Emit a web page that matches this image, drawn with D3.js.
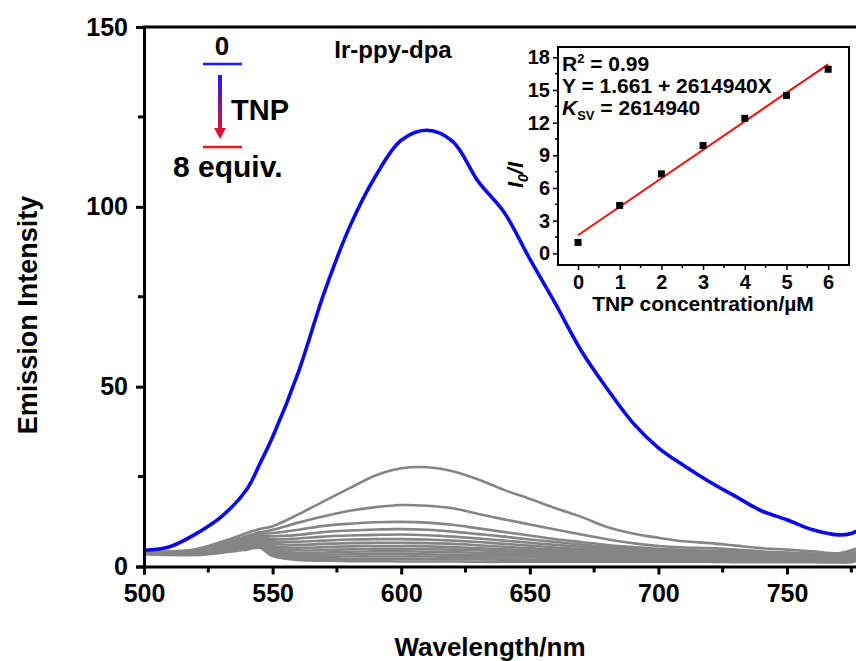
<!DOCTYPE html>
<html lang="en">
<head>
    <meta charset="UTF-8">
    <title>Ir-ppy-dpa emission quenching by TNP</title>
    <style>
        body { margin: 0; background: #fff; }
        svg { display: block; }
        text {
            font-family: "Liberation Sans", Arial, Helvetica, sans-serif;
            font-weight: bold;
            fill: #000;
        }
        .domain, .tick line { stroke: #000; }
    </style>
</head>
<body>

    <svg width="856" height="661"></svg>

    <script src="https://d3js.org/d3.v7.min.js"></script>

    <script>

        // Wavelength grid (nm) shared by all spectra
        const wavelengths = [500, 510, 520, 530, 540, 545, 550, 560, 570, 580, 590, 600, 610, 620, 630,
                             640, 650, 660, 670, 680, 690, 700, 710, 720, 730, 740, 750, 760, 770, 775, 780];

        // Spectrum without TNP (0 equiv.)
        const blueSpectrum = [4.5, 5.5, 9.0, 13.8, 21.5, 28.5, 36.0, 54.0, 76.0, 94.5, 108.5, 118.5, 121.3, 118.2, 107.0,
                              98.5, 85.5, 73.0, 60.0, 49.5, 40.0, 33.0, 28.0, 23.5, 19.5, 15.5, 13.0, 10.2, 8.8, 9.2, 11.0];

        // Spectra after successive TNP additions
        const greySpectra = [
            [4.2, 4.2, 4.8, 6.8, 9.3, 10.4, 11.2, 14.5, 18.2, 21.8, 25.3, 27.3, 27.6, 26.5, 24.2, 21.3, 18.8, 16.2, 13.8, 11.0, 9.2, 8.0, 7.0, 6.5, 5.8, 5.1, 4.7, 4.2, 3.7, 4.5, 6.0],
            [4.2, 4.0, 4.5, 6.3, 8.5, 9.5, 10.2, 12.2, 14.0, 15.5, 16.5, 17.1, 16.9, 16.2, 14.6, 13.1, 11.7, 10.3, 8.9, 7.6, 6.5, 5.7, 5.3, 5.1, 4.7, 4.2, 3.9, 3.6, 3.2, 3.8, 5.0],
            [4.0, 3.8, 4.3, 6.0, 8.0, 9.0, 9.3, 10.2, 11.3, 11.9, 12.3, 12.4, 12.2, 11.6, 10.6, 9.6, 8.6, 7.6, 6.8, 6.0, 5.4, 4.9, 4.6, 4.4, 4.2, 3.8, 3.5, 3.2, 2.8, 3.3, 4.5],
            [4.0, 3.8, 4.2, 5.8, 7.7, 8.6, 8.4, 8.8, 9.6, 10.0, 10.3, 10.4, 10.2, 9.7, 9.0, 8.3, 7.5, 6.8, 6.1, 5.5, 5.0, 4.6, 4.3, 4.1, 3.9, 3.6, 3.3, 3.0, 2.7, 3.1, 4.2],
            [3.9, 3.7, 4.1, 5.6, 7.4, 8.3, 7.6, 7.8, 8.3, 8.6, 8.8, 8.9, 8.7, 8.3, 7.8, 7.2, 6.6, 6.0, 5.5, 5.0, 4.6, 4.3, 4.0, 3.8, 3.6, 3.4, 3.1, 2.9, 2.6, 2.9, 4.0],
            [3.9, 3.6, 4.0, 5.4, 7.1, 8.0, 7.0, 6.9, 7.2, 7.5, 7.6, 7.6, 7.5, 7.2, 6.8, 6.3, 5.8, 5.3, 4.9, 4.5, 4.2, 3.9, 3.7, 3.5, 3.3, 3.1, 2.9, 2.7, 2.4, 2.7, 3.8],
            [3.8, 3.6, 3.9, 5.2, 6.8, 7.7, 6.4, 6.0, 6.3, 6.5, 6.6, 6.6, 6.5, 6.3, 5.9, 5.5, 5.1, 4.7, 4.4, 4.1, 3.8, 3.6, 3.4, 3.2, 3.0, 2.9, 2.7, 2.5, 2.3, 2.5, 3.6],
            [3.8, 3.5, 3.8, 5.0, 6.5, 7.4, 5.8, 5.2, 5.4, 5.6, 5.7, 5.7, 5.6, 5.4, 5.1, 4.8, 4.5, 4.2, 3.9, 3.7, 3.5, 3.3, 3.1, 3.0, 2.8, 2.7, 2.5, 2.3, 2.1, 2.3, 3.4],
            [3.7, 3.5, 3.7, 4.8, 6.2, 7.1, 5.3, 4.5, 4.6, 4.8, 4.9, 4.9, 4.8, 4.7, 4.5, 4.2, 4.0, 3.7, 3.5, 3.3, 3.1, 3.0, 2.8, 2.7, 2.6, 2.5, 2.3, 2.2, 2.0, 2.1, 3.2],
            [3.7, 3.4, 3.6, 4.6, 5.9, 6.8, 4.8, 3.8, 3.9, 4.1, 4.2, 4.2, 4.1, 4.0, 3.8, 3.6, 3.5, 3.3, 3.1, 2.9, 2.8, 2.7, 2.6, 2.5, 2.4, 2.3, 2.2, 2.0, 1.9, 2.0, 3.0],
            [3.6, 3.4, 3.5, 4.4, 5.6, 6.4, 4.3, 3.2, 3.3, 3.4, 3.5, 3.5, 3.4, 3.3, 3.2, 3.1, 3.0, 2.8, 2.7, 2.6, 2.5, 2.4, 2.3, 2.2, 2.2, 2.1, 2.0, 1.9, 1.8, 1.9, 2.8],
            [3.6, 3.3, 3.4, 4.2, 5.3, 6.0, 3.8, 2.7, 2.7, 2.8, 2.8, 2.8, 2.8, 2.7, 2.6, 2.5, 2.5, 2.4, 2.3, 2.2, 2.2, 2.1, 2.0, 2.0, 1.9, 1.9, 1.8, 1.7, 1.6, 1.7, 2.6],
            [3.5, 3.3, 3.3, 4.0, 5.0, 5.6, 3.3, 2.2, 2.1, 2.1, 2.1, 2.1, 2.1, 2.0, 2.0, 1.9, 1.9, 1.8, 1.8, 1.8, 1.7, 1.7, 1.7, 1.6, 1.6, 1.6, 1.5, 1.5, 1.4, 1.5, 2.4],
            [3.5, 3.2, 3.2, 3.8, 4.7, 5.2, 2.9, 1.8, 1.6, 1.5, 1.5, 1.4, 1.4, 1.4, 1.3, 1.3, 1.3, 1.3, 1.3, 1.3, 1.3, 1.3, 1.3, 1.3, 1.2, 1.2, 1.2, 1.2, 1.1, 1.2, 2.2]
        ];

        const xTicks = [500, 550, 600, 650, 700, 750];
        const xMinor = [525, 575, 625, 675, 725, 775];
        const yTicks = [0, 50, 100, 150];
        const yMinor = [25, 75, 125];

        // Inset: Stern-Volmer plot
        const tnpConc = [0, 1, 2, 3, 4, 5, 6];
        const ratioI0I = [1.0, 4.4, 7.3, 9.9, 12.4, 14.5, 16.9];
        const fitX = [0, 6];
        const fitY = [1.661, 17.35];
        const insetXTicks = [0, 1, 2, 3, 4, 5, 6];
        const insetXMinor = [0.5, 1.5, 2.5, 3.5, 4.5, 5.5];
        const insetYTicks = [0, 3, 6, 9, 12, 15, 18];
        const insetYMinor = [1.5, 4.5, 7.5, 10.5, 13.5, 16.5];

        const svg = d3.select('svg');

        // ---- main plot ----
        const plot = { left: 144, top: 27, right: 915.6, bottom: 566.5 };

        const x = d3.scaleLinear().domain([500, 800]).range([plot.left, plot.right]);
        const y = d3.scaleLinear().domain([0, 150]).range([plot.bottom, plot.top]);

        svg.append('clipPath').attr('id', 'plotClip')
            .append('rect')
            .attr('x', plot.left).attr('y', plot.top)
            .attr('width', plot.right - plot.left).attr('height', plot.bottom - plot.top);

        const line = d3.line()
            .x(function (d) { return x(d[0]); })
            .y(function (d) { return y(d[1]); })
            .curve(d3.curveCatmullRom.alpha(0.5));

        const curves = svg.append('g').attr('clip-path', 'url(#plotClip)');

        greySpectra.forEach(function (s) {
            curves.append('path')
                .attr('d', line(d3.zip(wavelengths, s)))
                .attr('fill', 'none')
                .attr('stroke', '#858585')
                .attr('stroke-width', 2.6);
        });

        curves.append('path')
            .attr('d', line(d3.zip(wavelengths, blueSpectrum)))
            .attr('fill', 'none')
            .attr('stroke', '#0a0ae6')
            .attr('stroke-width', 3.6);

        // draws minor ticks (no labels) then labelled major ticks
        function styleAxis(g, fontSize, width) {
            g.selectAll('.domain').attr('stroke-width', width);
            g.selectAll('.tick line').attr('stroke-width', width);
            g.selectAll('.tick text').style('font-size', fontSize).attr('fill', '#000');
        }

        const xAxisG = svg.append('g').attr('transform', 'translate(0,' + plot.bottom + ')');
        xAxisG.selectAll('line.minor')
            .data(xMinor).enter().append('line')
            .attr('x1', x).attr('x2', x).attr('y1', 0).attr('y2', 6)
            .attr('stroke', '#000').attr('stroke-width', 3);
        xAxisG.call(d3.axisBottom(x).tickValues(xTicks).tickSize(8).tickPadding(10).tickFormat(d3.format('d')));
        styleAxis(xAxisG, '25px', 3);

        const yAxisG = svg.append('g').attr('transform', 'translate(' + plot.left + ',0)');
        yAxisG.selectAll('line.minor')
            .data(yMinor).enter().append('line')
            .attr('y1', y).attr('y2', y).attr('x1', 0).attr('x2', -6)
            .attr('stroke', '#000').attr('stroke-width', 3);
        yAxisG.call(d3.axisLeft(y).tickValues(yTicks).tickSize(8).tickPadding(8).tickFormat(d3.format('d')));
        styleAxis(yAxisG, '25px', 3);

        // top frame line
        svg.append('line')
            .attr('x1', plot.left - 1.5).attr('x2', plot.right)
            .attr('y1', plot.top).attr('y2', plot.top)
            .attr('stroke', '#000').attr('stroke-width', 3);

        // axis titles
        svg.append('text')
            .attr('x', 490).attr('y', 656)
            .attr('text-anchor', 'middle')
            .style('font-size', '26px')
            .text('Wavelength/nm');

        svg.append('text')
            .attr('transform', 'translate(37,315) rotate(-90)')
            .attr('text-anchor', 'middle')
            .style('font-size', '27px')
            .text('Emission Intensity');

        svg.append('text')
            .attr('x', 393).attr('y', 58)
            .attr('text-anchor', 'middle')
            .style('font-size', '24px')
            .text('Ir-ppy-dpa');

        // legend: 0 -> 8 equiv.
        const defs = svg.append('defs');
        const grad = defs.append('linearGradient')
            .attr('id', 'arrowGrad')
            .attr('x1', 0).attr('y1', 0).attr('x2', 0).attr('y2', 1);
        grad.append('stop').attr('offset', '0%').attr('stop-color', '#1a1aff');
        grad.append('stop').attr('offset', '100%').attr('stop-color', '#e0102a');

        const legend = svg.append('g');
        legend.append('text')
            .attr('x', 222).attr('y', 55)
            .attr('text-anchor', 'middle')
            .style('font-size', '26px')
            .text('0');
        legend.append('line')
            .attr('x1', 203).attr('x2', 242).attr('y1', 64).attr('y2', 64)
            .attr('stroke', '#1a1aff').attr('stroke-width', 2.5);
        legend.append('rect')
            .attr('x', 218).attr('y', 75).attr('width', 4).attr('height', 55)
            .attr('fill', 'url(#arrowGrad)');
        legend.append('path')
            .attr('d', 'M214,128 L226,128 L220,139 Z')
            .attr('fill', '#dc1030');
        legend.append('text')
            .attr('x', 231).attr('y', 120)
            .style('font-size', '29px')
            .text('TNP');
        legend.append('line')
            .attr('x1', 203).attr('x2', 242).attr('y1', 147).attr('y2', 147)
            .attr('stroke', '#f01818').attr('stroke-width', 2.5);
        legend.append('text')
            .attr('x', 173).attr('y', 177)
            .style('font-size', '30px')
            .text('8 equiv.');

        // ---- inset ----
        const inset = { left: 558, top: 47, right: 849, bottom: 265 };

        const ix = d3.scaleLinear().domain([-0.48, 6.5]).range([inset.left, inset.right]);
        const iy = d3.scaleLinear().domain([-1.07, 18.0]).range([inset.bottom, 57.3]);

        const insetG = svg.append('g');

        insetG.append('rect')
            .attr('x', inset.left).attr('y', inset.top)
            .attr('width', inset.right - inset.left).attr('height', inset.bottom - inset.top)
            .attr('fill', '#fff')
            .attr('stroke', '#000').attr('stroke-width', 2);

        const ixAxis = insetG.append('g').attr('transform', 'translate(0,' + inset.bottom + ')');
        ixAxis.selectAll('line.minor')
            .data(insetXMinor).enter().append('line')
            .attr('x1', ix).attr('x2', ix).attr('y1', 0).attr('y2', 3)
            .attr('stroke', '#000').attr('stroke-width', 1.5);
        ixAxis.call(d3.axisBottom(ix).tickValues(insetXTicks).tickSize(5).tickPadding(5).tickFormat(d3.format('d')));
        ixAxis.selectAll('.domain').remove();
        styleAxis(ixAxis, '20px', 1.5);

        const iyAxis = insetG.append('g').attr('transform', 'translate(' + inset.left + ',0)');
        iyAxis.selectAll('line.minor')
            .data(insetYMinor).enter().append('line')
            .attr('y1', iy).attr('y2', iy).attr('x1', 0).attr('x2', -3)
            .attr('stroke', '#000').attr('stroke-width', 1.5);
        iyAxis.call(d3.axisLeft(iy).tickValues(insetYTicks).tickSize(5).tickPadding(3).tickFormat(d3.format('d')));
        iyAxis.selectAll('.domain').remove();
        styleAxis(iyAxis, '20px', 1.5);

        insetG.append('path')
            .attr('d', d3.line().x(function (d) { return ix(d[0]); }).y(function (d) { return iy(d[1]); })(d3.zip(fitX, fitY)))
            .attr('stroke', '#ee1111').attr('stroke-width', 2).attr('fill', 'none');

        insetG.selectAll('rect.pt')
            .data(d3.zip(tnpConc, ratioI0I))
            .enter()
            .append('rect')
            .attr('class', 'pt')
            .attr('x', function (d) { return ix(d[0]) - 3.5; })
            .attr('y', function (d) { return iy(d[1]) - 3.5; })
            .attr('width', 7).attr('height', 7)
            .attr('fill', '#000');

        insetG.append('text')
            .attr('x', 703).attr('y', 311)
            .attr('text-anchor', 'middle')
            .style('font-size', '21px')
            .text('TNP concentration/\u00b5M');

        const ylab = insetG.append('text')
            .attr('transform', 'translate(523,175) rotate(-90)')
            .attr('text-anchor', 'middle')
            .style('font-size', '22px')
            .style('font-style', 'italic');
        ylab.append('tspan').text('I');
        ylab.append('tspan').attr('dy', 5).style('font-size', '14px').text('0');
        ylab.append('tspan').attr('dy', -5).text('/I');

        const t1 = insetG.append('text').attr('x', 562).attr('y', 71).style('font-size', '21px');
        t1.append('tspan').text('R');
        t1.append('tspan').attr('dy', -8).style('font-size', '13px').text('2');
        t1.append('tspan').attr('dy', 8).text(' = 0.99');

        insetG.append('text').attr('x', 562).attr('y', 93).style('font-size', '21px')
            .text('Y = 1.661 + 2614940X');

        const t3 = insetG.append('text').attr('x', 562).attr('y', 115).style('font-size', '21px');
        t3.append('tspan').style('font-style', 'italic').text('K');
        t3.append('tspan').attr('dy', 5).style('font-size', '13px').text('SV');
        t3.append('tspan').attr('dy', -5).text(' = 2614940');

    </script>

</body>
</html>
